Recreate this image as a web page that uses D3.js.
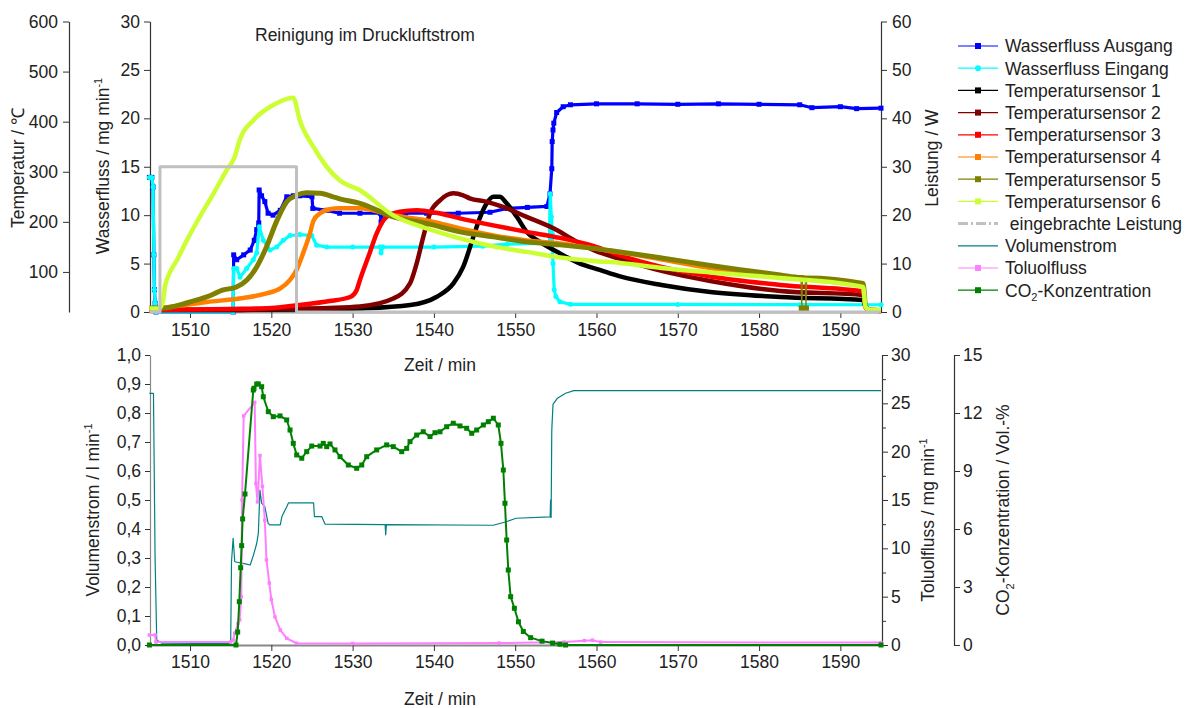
<!DOCTYPE html>
<html>
<head>
<meta charset="utf-8">
<script src="https://cdn.jsdelivr.net/npm/d3@7"></script>
<style>
  body { margin: 0; background: #fff; }
  svg text { font-family: "Liberation Sans", Arial, sans-serif; font-size: 17.5px; fill: #222; }
</style>
</head>
<body>
<svg id="chart" width="1187" height="708"></svg>
<script>
// ---- data (time in min) ----
const timeTicks = [1510, 1520, 1530, 1540, 1550, 1560, 1570, 1580, 1590];
const wasserTicks = [0, 5, 10, 15, 20, 25, 30];
const tempTicks = [100, 200, 300, 400, 500, 600];
const leistungTicks = [0, 10, 20, 30, 40, 50, 60];
const volTicks = [0, 0.1, 0.2, 0.3, 0.4, 0.5, 0.6, 0.7, 0.8, 0.9, 1.0];
const toluolTicks = [0, 5, 10, 15, 20, 25, 30];
const toluolMinor = [2.5, 7.5, 12.5, 17.5, 22.5, 27.5];
const co2Ticks = [0, 3, 6, 9, 12, 15];

// Wasserfluss / mg min-1
const wasserAusgang = [[1505.0,13.9],[1505.3,13.9],[1505.45,12.9],[1505.55,5.9],[1505.62,2.3],[1505.7,0.9],[1505.8,0],[1515.3,0],[1515.37,5.9],[1515.74,5.4],[1516.6,5.9],[1517.4,6.4],[1517.9,7.4],[1518.2,8.5],[1518.45,9.2],[1518.5,12.6],[1518.8,12.0],[1519.2,11.4],[1519.6,10.2],[1520.2,10.0],[1521.1,10.5],[1521.9,11.9],[1522.7,12.0],[1523.5,12.0],[1525.0,11.9],[1525.1,10.7],[1526.8,10.5],[1528.4,10.2],[1530.9,10.2],[1533.4,10.2],[1533.5,9.3],[1533.7,10.2],[1536.5,10.2],[1539.1,10.2],[1543.0,10.2],[1546.9,10.3],[1549.0,10.7],[1551.5,10.8],[1553.9,10.9],[1554.28,12.2],[1554.5,14.8],[1554.55,17.6],[1554.65,18.8],[1554.75,19.5],[1555.1,20.6],[1555.9,21.2],[1556.8,21.4],[1560,21.5],[1565,21.5],[1570,21.45],[1575,21.5],[1580,21.45],[1585,21.4],[1586.5,21.1],[1590,21.2],[1592,21.0],[1595,21.05]];
const wasserEingang = [[1505.0,13.9],[1505.3,13.9],[1505.45,12.9],[1505.55,5.9],[1505.62,2.3],[1505.7,0.9],[1505.8,0],[1515.3,0],[1515.37,4.5],[1515.74,4.5],[1516.15,3.6],[1516.97,4.5],[1517.78,5.4],[1518.2,6.1],[1518.52,8.8],[1519.01,7.4],[1519.84,6.4],[1520.66,6.7],[1521.47,7.4],[1522.3,7.9],[1523.5,8.0],[1524.97,7.9],[1525.58,6.9],[1526.81,6.7],[1530,6.7],[1533.4,6.7],[1533.5,6.1],[1533.7,6.7],[1540,6.7],[1546,6.8],[1549,7.0],[1554.2,7.1],[1554.3,12.2],[1554.45,9.8],[1554.55,8.1],[1554.65,5.0],[1554.8,2.3],[1555.0,1.6],[1555.5,1.06],[1556.8,0.79],[1570,0.78],[1585,0.76],[1595,0.75]];

// Temperatur / °C
const temp1 = [[1505,24],[1515,24],[1525,25],[1530.9,27],[1537.1,34],[1540.3,50],[1542.4,77],[1543.6,110],[1544.85,170],[1545.7,210],[1546.5,237],[1547.3,250],[1548.1,250],[1548.95,237],[1550.2,210],[1551.4,180],[1553.05,160],[1555.5,137],[1557.9,117],[1560.4,104],[1562.9,91],[1568,74],[1574,60],[1582.6,50],[1592.8,44],[1593.1,30],[1593.5,24],[1595,22]];
const temp2 = [[1505,24],[1515,24],[1520,26],[1527,28],[1530.9,31],[1535.0,47],[1537.06,77],[1537.88,117],[1538.69,170],[1539.52,217],[1540.75,243],[1542.38,257],[1543.6,253],[1544.4,247],[1546.5,240],[1548.5,230],[1551.4,210],[1554.7,187],[1557.6,160],[1559.6,144],[1562.9,126],[1568,102],[1574,82],[1582.6,62],[1592.8,54],[1593.1,30],[1593.5,24],[1595,22]];
const temp3 = [[1505,24],[1515,26],[1520,28],[1523.5,34],[1527.2,42],[1529.7,50],[1530.5,64],[1530.9,84],[1532.1,138],[1532.96,177],[1534.2,210],[1535.8,220],[1537.9,223],[1540.3,218],[1543.2,207],[1547.3,193],[1551.4,180],[1555.5,168],[1559.6,152],[1562.9,133],[1568,110],[1574,91],[1582.6,74],[1592.8,61],[1593.1,30],[1593.5,24],[1595,22]];
const temp4 = [[1505,24],[1507.9,31],[1512.05,40],[1516.1,47],[1519.4,57],[1521.1,67],[1522.3,84],[1523.1,104],[1523.9,137],[1524.75,177],[1525.2,203],[1526.0,217],[1527.2,225],[1528.4,227],[1530.9,227],[1535.0,213],[1539.1,203],[1543.2,187],[1547.3,173],[1551.4,163],[1555.5,157],[1559.6,147],[1562.9,139],[1568,125],[1574,108],[1582.6,90],[1592.8,71],[1593.1,30],[1593.5,24],[1595,22]];
const temp5 = [[1505,28],[1506.7,28],[1510.0,40],[1512.05,50],[1514.1,64],[1515.7,70],[1517.0,84],[1518.2,110],[1519.4,150],[1520.7,203],[1521.9,240],[1523.1,253],[1524.35,258],[1526.0,257],[1527.6,250],[1528.4,246],[1530.9,237],[1535.0,210],[1539.1,197],[1543.2,180],[1547.3,170],[1551.4,160],[1555.5,154],[1559.6,147],[1562.9,140],[1568,128],[1574,113],[1582.6,94],[1585.15,89],[1585.35,89],[1585.67,88],[1585.87,88],[1592.8,77],[1593.1,32],[1593.5,25],[1595,23]];
// two single dropout readings of sensor 5
const temp5Dropouts = [[1585.25,27],[1585.77,27]];
const temp6 = [[1505,27],[1506.2,27],[1506.7,44],[1506.9,70],[1507.5,98],[1508.4,124],[1509.6,163],[1511.2,210],[1512.9,257],[1514.5,303],[1515.5,330],[1516.1,363],[1517.8,403],[1520.2,433],[1522.7,448],[1523.5,403],[1525.2,349],[1526.8,310],[1528.4,283],[1530.9,263],[1535.0,213],[1539.1,187],[1543.2,167],[1547.3,151],[1551.4,140],[1555.5,129],[1559.6,122],[1562.9,118],[1568,108],[1574,99],[1582.6,88],[1592.8,70],[1593.1,30],[1593.5,25],[1595,24]];

// Leistung / W
const leistung = [[1505,0],[1506.3,0],[1506.3,30],[1523.1,30],[1523.1,0],[1595,0]];

// Volumenstrom / l min-1
const volumenstrom = [[1505,0.868],[1505.5,0.868],[1505.7,0.3],[1505.9,0.017],[1506.2,0.012],[1506.5,0.006],[1515.0,0.005],[1515.1,0.287],[1515.3,0.368],[1515.5,0.287],[1516.8,0.28],[1517.4,0.276],[1517.8,0.31],[1518.2,0.35],[1518.4,0.385],[1518.6,0.534],[1518.8,0.489],[1519.2,0.477],[1519.6,0.42],[1519.8,0.414],[1521.1,0.414],[1521.3,0.443],[1521.9,0.477],[1522.1,0.49],[1525.2,0.49],[1525.3,0.443],[1526.2,0.443],[1526.6,0.417],[1534.0,0.415],[1534.07,0.38],[1534.15,0.415],[1547.3,0.413],[1548.9,0.425],[1550.1,0.437],[1554.3,0.442],[1554.35,0.5],[1554.42,0.44],[1554.5,0.741],[1554.65,0.83],[1555.2,0.851],[1556.2,0.868],[1557.2,0.877],[1595,0.877]];

// Toluolfluss / mg min-1
const toluol = [[1505,1.03],[1505.7,1.03],[1505.8,0.3],[1515.0,0.3],[1515.3,0.5],[1515.5,1.2],[1515.9,2.2],[1516.1,2.6],[1516.3,5.0],[1516.4,15],[1516.6,23.7],[1517.95,25.1],[1518.1,16.7],[1518.3,14.8],[1518.6,19.6],[1518.9,16.4],[1519.2,12.9],[1519.4,8.8],[1519.75,6.4],[1520.0,4.7],[1520.45,2.9],[1521.1,1.55],[1521.9,0.69],[1523.1,0.18],[1530,0.15],[1548,0.2],[1556,0.3],[1558.5,0.45],[1559.5,0.5],[1560.5,0.3],[1595,0.25]];

// CO2-Konzentration / Vol.-%
const co2 = [[1505,0],[1515.65,0],[1515.86,0.67],[1516.06,2.24],[1516.23,4.0],[1516.35,5.14],[1516.47,6.52],[1516.76,7.81],[1517.78,13.19],[1517.87,13.28],[1518.2,13.5],[1518.4,13.5],[1518.81,13.36],[1519.01,12.84],[1519.63,12.07],[1520.24,11.81],[1521.07,11.85],[1521.89,11.64],[1522.3,11.12],[1522.7,10.43],[1523.12,9.83],[1523.74,9.66],[1524.35,10.0],[1524.97,10.29],[1525.99,10.29],[1526.39,10.43],[1526.81,10.26],[1527.22,10.4],[1527.83,10.09],[1528.45,9.74],[1529.47,9.31],[1530.5,9.14],[1531.12,9.31],[1531.73,9.74],[1532.96,10.09],[1534.19,10.35],[1535.0,10.26],[1536.04,10.0],[1536.65,10.17],[1537.06,10.52],[1537.88,10.86],[1538.69,11.03],[1539.52,10.78],[1540.13,10.98],[1540.75,11.03],[1541.57,11.29],[1542.38,11.47],[1543.21,11.33],[1544.03,11.21],[1544.65,10.95],[1545.26,11.12],[1546.08,11.38],[1546.69,11.55],[1547.31,11.73],[1547.92,11.38],[1548.25,10.43],[1548.54,9.05],[1548.74,7.33],[1548.95,5.43],[1549.15,3.88],[1549.44,2.5],[1549.9,1.9],[1550.4,1.2],[1551.0,0.7],[1551.9,0.38],[1553.3,0.2],[1554.6,0.1],[1555.5,0.04],[1556.2,0],[1595,0]];

// ---- scales ----
const svg = d3.select('#chart');
const x = d3.scaleLinear().domain([1505, 1595]).range([149.4, 881]);
const yW = d3.scaleLinear().domain([0, 30]).range([312, 21.5]);
const yT = d3.scaleLinear().domain([20, 600]).range([312, 21.5]);
const yP = d3.scaleLinear().domain([0, 60]).range([312, 21.5]);
const yV = d3.scaleLinear().domain([0, 1]).range([645, 355]);
const yTol = d3.scaleLinear().domain([0, 30]).range([645, 355]);
const yCO2 = d3.scaleLinear().domain([0, 15]).range([645, 355]);

function styleAxis(g, color) {
  g.select('.domain').attr('stroke', color || '#333').attr('stroke-width', 1.2);
  g.selectAll('.tick line').attr('stroke', '#333');
}

// ---- axes top ----
svg.append('g').attr('transform', 'translate(0,312)')
  .call(d3.axisBottom(x).tickValues(timeTicks).tickSize(6).tickPadding(6).tickSizeOuter(0).tickFormat(d3.format('d')))
  .call((g) => { styleAxis(g); g.select('.domain').attr('stroke', '#999').attr('stroke-width', 2); });
svg.append('g').attr('transform', 'translate(150,0)')
  .call(d3.axisLeft(yW).tickValues(wasserTicks).tickSize(6).tickPadding(4).tickSizeOuter(0))
  .call((g) => styleAxis(g));
svg.append('g').attr('transform', 'translate(69,0)')
  .call(d3.axisLeft(yT).tickValues(tempTicks).tickSize(6).tickPadding(5).tickSizeOuter(0))
  .call((g) => styleAxis(g));
svg.append('g').attr('transform', 'translate(881,0)')
  .call(d3.axisRight(yP).tickValues(leistungTicks).tickSize(6).tickPadding(5).tickSizeOuter(0))
  .call((g) => styleAxis(g));

// ---- axes bottom ----
const comma = (d) => d3.format('.1f')(d).replace('.', ',');
svg.append('g').attr('transform', 'translate(0,645)')
  .call(d3.axisBottom(x).tickValues(timeTicks).tickSize(6).tickPadding(5).tickSizeOuter(0).tickFormat(d3.format('d')))
  .call((g) => { styleAxis(g); g.select('.domain').attr('stroke', '#888').attr('stroke-width', 2); });
svg.append('g').attr('transform', 'translate(150,0)')
  .call(d3.axisLeft(yV).tickValues(volTicks).tickSize(5).tickPadding(4).tickSizeOuter(0).tickFormat(comma))
  .call((g) => styleAxis(g, '#888'));
svg.append('g').attr('transform', 'translate(882,0)')
  .call(d3.axisRight(yTol).tickValues(toluolTicks).tickSize(6).tickPadding(3).tickSizeOuter(0))
  .call((g) => styleAxis(g));
svg.append('g').attr('transform', 'translate(882,0)')
  .call(d3.axisRight(yTol).tickValues(toluolMinor).tickSize(4).tickFormat('').tickSizeOuter(0))
  .call((g) => { g.select('.domain').remove(); g.selectAll('.tick line').attr('stroke', '#333'); });
svg.append('g').attr('transform', 'translate(954,0)')
  .call(d3.axisRight(yCO2).tickValues(co2Ticks).tickSize(6).tickPadding(3).tickSizeOuter(0))
  .call((g) => styleAxis(g));

// ---- series ----
const smooth = d3.curveMonotoneX;
const series = [
  { name: 'Wasserfluss Ausgang', data: wasserAusgang, y: yW, color: '#0000ff', w: 3.2, marker: 'square', ms: 5 },
  { name: 'Wasserfluss Eingang', data: wasserEingang, y: yW, color: '#00ffff', w: 3.2, marker: 'circle', ms: 5 },
  { name: 'Temperatursensor 1', data: temp1, y: yT, color: '#000000', w: 4.5, curve: smooth },
  { name: 'Temperatursensor 2', data: temp2, y: yT, color: '#800000', w: 4.5, curve: smooth },
  { name: 'Temperatursensor 3', data: temp3, y: yT, color: '#ff0000', w: 4.5, curve: smooth },
  { name: 'Temperatursensor 4', data: temp4, y: yT, color: '#ff8000', w: 4.5, curve: smooth },
  { name: 'Temperatursensor 5', data: temp5, y: yT, color: '#808000', w: 5, curve: smooth },
  { name: 'Temperatursensor 6', data: temp6, y: yT, color: '#ccff33', w: 4.5, curve: smooth },
  { name: ' eingebrachte Leistung', data: leistung, y: yP, color: '#c0c0c0', w: 3, dash: '10,3,2,3' },
  { name: 'Volumenstrom', data: volumenstrom, y: yV, color: '#008080', w: 1.2 },
  { name: 'Toluolfluss', data: toluol, y: yTol, color: '#ff80ff', w: 2, marker: 'square', ms: 3.5 },
  { name: 'CO2-Konzentration', data: co2, y: yCO2, color: '#008000', w: 2, marker: 'square', ms: 5 },
];
const legendMarker = { 'Temperatursensor': 'square' };

const plot = svg.append('g').attr('class', 'series');
series.forEach((s) => {
  const line = d3.line().curve(s.curve || d3.curveLinear).x((d) => x(d[0])).y((d) => s.y(d[1]));
  plot.append('path').datum(s.data)
    .attr('fill', 'none').attr('stroke', s.color).attr('stroke-width', s.w)
    .attr('stroke-linejoin', 'round').attr('d', line);
  if (s.marker === 'square') {
    plot.append('g').selectAll('rect').data(s.data).join('rect')
      .attr('x', (d) => x(d[0]) - s.ms / 2).attr('y', (d) => s.y(d[1]) - s.ms / 2)
      .attr('width', s.ms).attr('height', s.ms).attr('fill', s.color);
  } else if (s.marker === 'circle') {
    plot.append('g').selectAll('circle').data(s.data).join('circle')
      .attr('cx', (d) => x(d[0])).attr('cy', (d) => s.y(d[1])).attr('r', s.ms / 2).attr('fill', s.color);
  }
  if (s.data === temp5) {
    // dropouts: thin drop lines with a marker at the bottom
    temp5Dropouts.forEach((d) => {
      plot.append('path').datum([[d[0] - 0.1, 89], d, [d[0] + 0.1, 88]])
        .attr('fill', 'none').attr('stroke', s.color).attr('stroke-width', 1.2).attr('d', line.curve(d3.curveLinear));
      plot.append('rect').attr('x', x(d[0]) - 3).attr('y', yT(d[1]) - 3).attr('width', 6).attr('height', 6).attr('fill', s.color);
    });
  }
});

// ---- legend ----
const legend = svg.append('g').attr('transform', 'translate(958,46)');
series.forEach((s, i) => {
  const row = legend.append('g').attr('transform', `translate(0,${i * 22.2})`);
  row.append('line').attr('x1', 0).attr('x2', 40).attr('y1', 0).attr('y2', 0)
    .attr('stroke', s.color).attr('stroke-width', s.dash ? 3 : 1.2)
    .attr('stroke-dasharray', s.dash || null);
  const mk = s.marker || (s.name.startsWith('Temperatursensor') ? legendMarker.Temperatursensor : null);
  if (mk === 'square') {
    row.append('rect').attr('x', 17).attr('y', -3).attr('width', 6).attr('height', 6).attr('fill', s.color);
  } else if (mk === 'circle') {
    row.append('circle').attr('cx', 20).attr('cy', 0).attr('r', 3).attr('fill', s.color);
  }
  const t = row.append('text').attr('x', 47).attr('y', 0).attr('dy', '0.36em').attr('xml:space', 'preserve');
  if (s.name.startsWith('CO2')) {
    t.append('tspan').text('CO');
    t.append('tspan').style('font-size', '11px').attr('dy', 5).text('2');
    t.append('tspan').attr('dy', -5).text('-Konzentration');
  } else {
    t.text(s.name);
  }
});

// ---- labels ----
svg.append('text').attr('x', 255).attr('y', 41).text('Reinigung im Druckluftstrom');
svg.append('text').attr('x', 440).attr('y', 371).attr('text-anchor', 'middle').text('Zeit / min');
svg.append('text').attr('x', 440).attr('y', 705).attr('text-anchor', 'middle').text('Zeit / min');

function rotLabel(cx, cy, parts) {
  const t = svg.append('text').attr('transform', `translate(${cx},${cy}) rotate(-90)`).attr('text-anchor', 'middle');
  parts.forEach((p) => {
    const sp = t.append('tspan').text(p.text);
    if (p.dy) sp.attr('dy', p.dy);
    if (p.small) sp.style('font-size', '11px');
  });
  return t;
}
rotLabel(24, 168, [{ text: 'Temperatur / ℃' }]);
rotLabel(109, 166, [{ text: 'Wasserfluss / mg min' }, { text: '-1', dy: -7, small: true }]);
rotLabel(938, 158, [{ text: 'Leistung / W' }]);
rotLabel(99, 510, [{ text: 'Volumenstrom / l min' }, { text: '-1', dy: -7, small: true }]);
rotLabel(934, 520, [{ text: 'Toluolfluss / mg min' }, { text: '-1', dy: -7, small: true }]);
rotLabel(1009, 510, [{ text: 'CO' }, { text: '2', dy: 5, small: true }, { text: '-Konzentration / Vol.-%', dy: -5 }]);
</script>
</body>
</html>
